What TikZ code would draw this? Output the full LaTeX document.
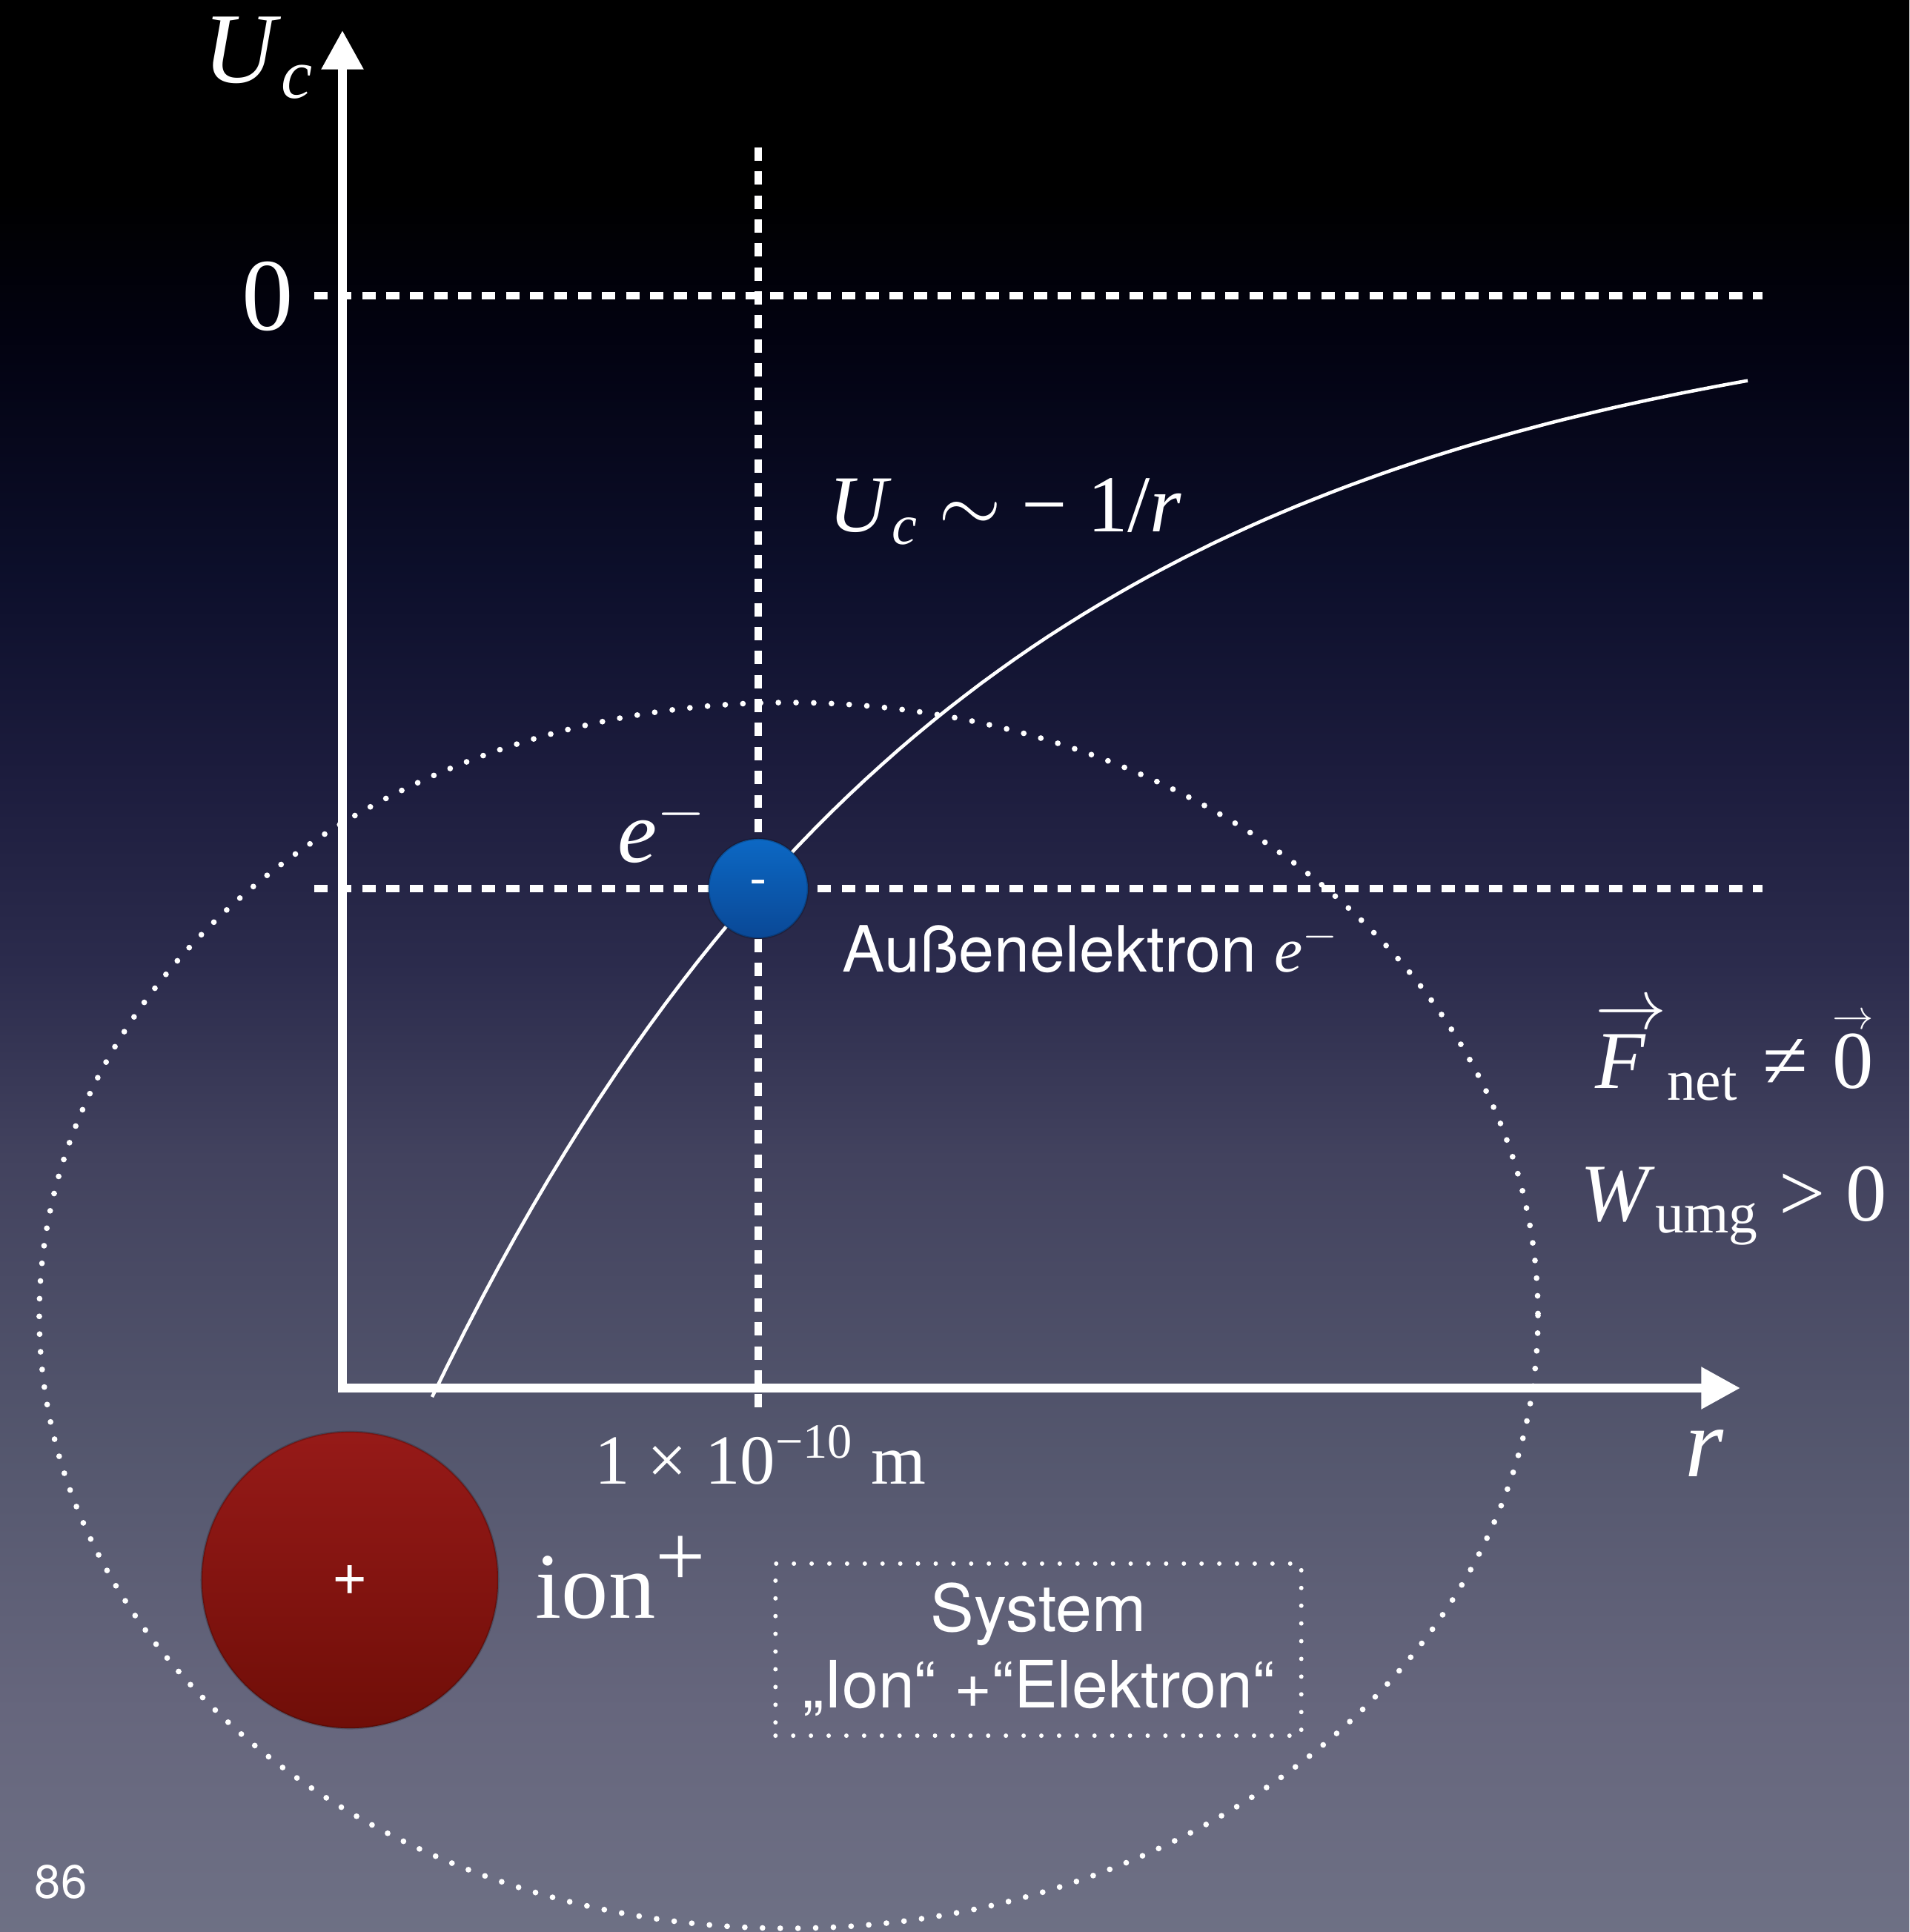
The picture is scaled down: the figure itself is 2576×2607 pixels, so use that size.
\RequirePackage{fix-cm}
\documentclass[tikz,border=0pt]{standalone}
\usepackage{graphicx}
\usepackage{fontspec}
\setmainfont{Liberation Serif}
\setsansfont{TeX Gyre Heros}
\usetikzlibrary{positioning,arrows.meta}

\definecolor{elecTop}{RGB}{12,104,196}
\definecolor{elecBot}{RGB}{10,72,150}
\definecolor{ionTop}{RGB}{150,26,24}
\definecolor{ionBot}{RGB}{112,14,8}
\pgfdeclareverticalshading{slidebg}{100bp}{rgb(0bp)=(0.43,0.44,0.52); rgb(25bp)=(0.43,0.44,0.52);
  rgb(30.75bp)=(0.40,0.40,0.49); rgb(37.5bp)=(0.33,0.34,0.43); rgb(45bp)=(0.26,0.26,0.37);
  rgb(50bp)=(0.17,0.17,0.30); rgb(55bp)=(0.11,0.11,0.24); rgb(60bp)=(0.05,0.06,0.17);
  rgb(66bp)=(0.01,0.01,0.07); rgb(70bp)=(0,0,0); rgb(100bp)=(0,0,0)}
\newcommand{\fsize}[1]{\fontsize{#1pt}{#1pt}\selectfont}
\newcommand{\vecr}[1]{\leavevmode\setbox0\hbox{#1}\rlap{\raisebox{0.72em}{\resizebox{\wd0}{!}{$\rightarrow$}}}\box0}

\begin{document}
\begin{tikzpicture}[x=0.01cm, y=-0.01cm,
  lbl/.style={text=white, inner sep=0pt},
  axis/.style={draw=white, line width=3.3pt,
    {Triangle[length=15pt,width=15.4pt]}-{Triangle[length=15pt,width=15.4pt]}},
  guide/.style={draw=white, line width=2.6pt, dash pattern=on 5.1pt off 4.1pt},
  curve/.style={draw=white, line width=1.3pt},
  dots/.style={draw=white, line width=2.2pt, line cap=round, dash pattern=on 0pt off 6.8pt},
  particle/.style={circle, inner sep=0pt, text=white, draw=black, draw opacity=0.2, line width=0.8pt},
  sysbox/.style={dots, line width=1.7pt, minimum width=7.09cm, minimum height=2.32cm,
    align=center, text=white, inner sep=0pt, font=\sffamily\fontsize{25pt}{29.3pt}\selectfont}]
\shade[shading=slidebg] (0,0) rectangle (2576,2607);
\useasboundingbox (0,0) rectangle (2576,2607);
\draw[dots] (1064,1775) ellipse [x radius=1011, y radius=827];
\coordinate (zl) at (424,399);
\coordinate (zr) at (2378,399);
\coordinate (el) at (424,1199);
\coordinate (er) at (2378,1199);
\coordinate (vt) at (1023,199);
\coordinate (vb) at (1023,1912);
\foreach \a/\b in {zl/zr,el/er,vt/vb}
  \draw[guide] (\a) -- (\b);
\draw[curve] plot[domain=583:2358, samples=80] (\x, {386.4+1498.6*exp(-(\x-583)/720)});
\coordinate (O) at (462,1873);
\coordinate (ytip) at (462,41);
\coordinate (xtip) at (2348,1873);
\draw[axis] (ytip) -- (O) -- (xtip);
\node[particle, minimum size=1.34cm, top color=elecTop, bottom color=elecBot,
  font=\sffamily\fsize{20}] (elec) at (1023,1199) {-};
\node[particle, minimum size=4cm, top color=ionTop, bottom color=ionBot,
  font=\sffamily\fsize{24}] (ion) at (472,2132) {+};
\node[lbl, anchor=base east, font=\fsize{38.5}] (uclab) at (424,112) {\textit{U}\textsubscript{\textit{c}}};
\node[lbl, anchor=base, font=\fsize{39.5}] (zerolab) at (361,446) {0};
\node[lbl, anchor=base west, font=\fsize{31}] (law) at (1118,718)
  {\textit{U}\textsubscript{\textit{c}} $\sim$ − 1/\textit{r}};
\node[lbl, anchor=base west, font=\fsize{34}] (elab) at (833,1163) {\textit{e}$^{-}$};
\node[lbl, anchor=base west, font=\sffamily\fsize{24.5}] (outer) at (1136,1311)
  {Außenelektron \textit{\rmfamily e}$^{-}$};
\node[lbl, anchor=base west, font=\fsize{31.5}] (fnet) at (2152,1468)
  {\vecr{\textit{F}\kern0.25em}\textsubscript{net}\hspace{0.3em}≠\hspace{0.3em}\vecr{0}};
\node[lbl, anchor=base west, font=\fsize{31.5}] (wumg) at (2132,1647) {\textit{W}\textsubscript{umg} > 0};
\node[lbl, anchor=base west, font=\fsize{38}] (rlab) at (2273,1992) {\textit{r}};
\node[lbl, anchor=base west, font=\fsize{27}] (dist) at (802,2002) {1 × 10\textsuperscript{−10} m};
\node[lbl, anchor=base west, font=\fsize{36}] (ionlab) at (722,2183)
  {ion\raisebox{12pt}{\fsize{34}+}};
\node[sysbox] (sys) at (1401,2226) {System\\„Ion“ +“Elektron“};
\node[lbl, font=\sffamily\fsize{18}] (page) at (82,2540) {86};
\end{tikzpicture}
\end{document}
